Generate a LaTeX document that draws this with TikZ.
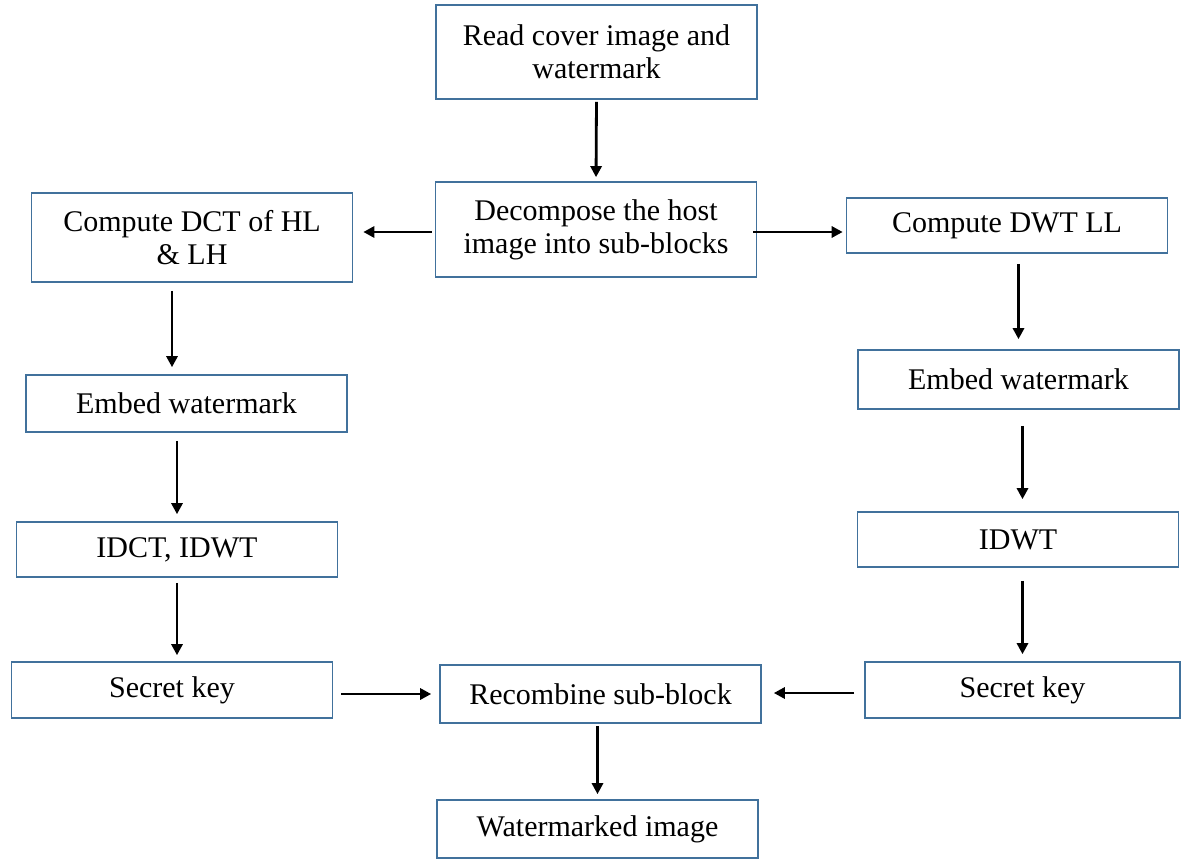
\documentclass[tikz,border=0pt]{standalone}
\usepackage{fontspec}
\setmainfont{Liberation Serif}
\usepackage{tikz}
\usetikzlibrary{arrows.meta}
\usetikzlibrary{calc}

\definecolor{boxblue}{RGB}{65,113,156}

\begin{document}
\begin{tikzpicture}[
x                 = 0.5pt,
y                 = -0.5pt,
every node/.style = {font=\fontsize{15}{16.5}\selectfont},
stepbox/.style    = {draw=boxblue, line width=0.8pt, align=center,
                     inner sep=0pt, minimum width=160.5pt},
flow/.style       = {draw, line width=1.4pt, -{Triangle[length=5.5pt,width=5.5pt]}}
]

\useasboundingbox (0,0) rectangle (1182,861);

% middle column
\node [stepbox, minimum height=47pt]   (read)   at (596.5,52)  {Read cover image and\\watermark};
\node [stepbox, minimum height=47.5pt] (decomp) at (596,229.5) {Decompose the host\\image into sub-blocks};
\node [stepbox, minimum height=29pt]   (recomb) at (600.5,694) {Recombine sub-block};
\node [stepbox, minimum height=29pt]   (wmimg)  at (597.5,829) {Watermarked image};

% left branch
\node [stepbox, minimum height=44.5pt] (dct)   at (192,237.5)   {Compute DCT of HL\\\& LH};
\node [stepbox, minimum height=28.5pt] (embl)  at (186.5,403.5) {Embed watermark};
\node [stepbox, minimum height=27.5pt] (idct)  at (177,549.5)   {IDCT, IDWT};
\node [stepbox, minimum height=28pt]   (keyl)  at (172,690)     {Secret key};

% right branch
\node [stepbox, minimum height=27.5pt] (dwtll) at (1007,225.5)  {Compute DWT LL};
\node [stepbox, minimum height=29.5pt] (embr)  at (1018.5,379.5) {Embed watermark};
\node [stepbox, minimum height=27.5pt] (idwt)  at (1018,539.5)  {IDWT};
\node [stepbox, minimum height=28pt, minimum width=157.5pt] (keyr) at (1022.5,690) {Secret key};

% connectors
\draw [flow, shorten <=1pt, shorten >=2pt] (read.south) -- (decomp.north);
\draw [flow, shorten <=1.5pt, shorten >=5pt] ([yshift=-1.25pt]decomp.west) -- ([yshift=-1.25pt]decomp.west -| dct.east);
\draw [flow, shorten <=-2pt, shorten >=1.5pt] ([yshift=-1.25pt]decomp.east) -- ([yshift=-1.25pt]decomp.east -| dwtll.west);

\draw [flow, shorten <=4pt, shorten >=3.5pt] ([xshift=-10pt]dct.south) -- ([xshift=-10pt]dct.south |- embl.north);
\draw [flow, shorten <=4pt, shorten >=3.5pt] (embl.south -| idct.north) -- (idct.north);
\draw [flow, shorten <=2.5pt, shorten >=3pt] (idct.south) -- (idct.south |- keyl.north);
\draw [flow, shorten <=4pt, shorten >=4pt] (keyl.east |- recomb.west) -- (recomb.west);

\draw [flow, shorten <=5pt, shorten >=5pt] (dwtll.south -| embr.north) -- (embr.north);
\draw [flow, shorten <=8pt, shorten >=6pt] ([xshift=2pt]embr.south) -- ([xshift=2pt]embr.south |- idwt.north);
\draw [flow, shorten <=6.5pt, shorten >=3.5pt] (idwt.south -| keyr.north) -- (keyr.north);
\draw [flow, shorten <=5pt, shorten >=6pt] ([yshift=-1.5pt]keyr.west) -- ([yshift=-1.5pt]keyr.west -| recomb.east);

\draw [flow, shorten <=1pt, shorten >=2.5pt] ([xshift=-1.5pt]recomb.south) -- ([xshift=-1.5pt]recomb.south |- wmimg.north);

\end{tikzpicture}
\end{document}
